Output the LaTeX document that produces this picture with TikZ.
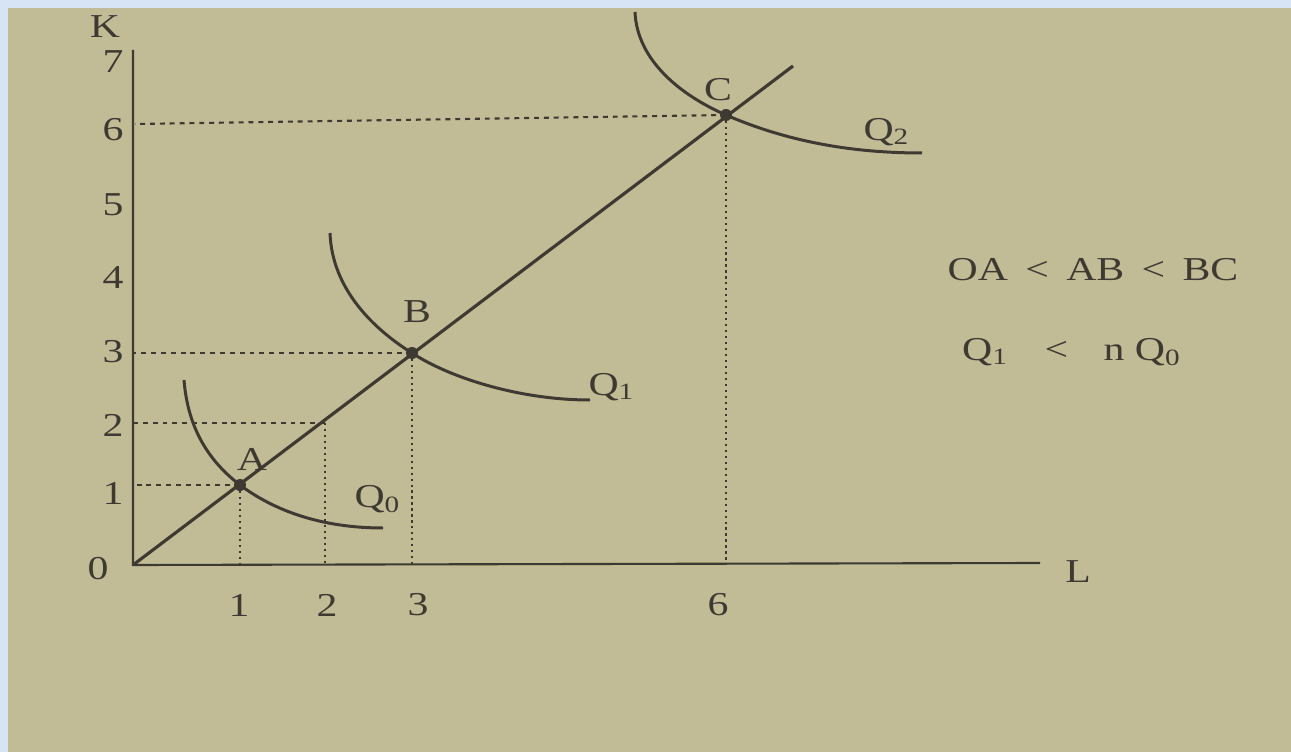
\documentclass[tikz,border=0pt]{standalone}
\usepackage{fontspec}
\setmainfont{Liberation Serif}
\usetikzlibrary{positioning}
\definecolor{paper}{RGB}{194,188,150}
\definecolor{frame}{RGB}{214,228,246}
\definecolor{ink}{RGB}{62,58,50}

\begin{document}
\begin{tikzpicture}[x=0.01cm,y=-0.01cm,
  lbl/.style={inner sep=0pt,text=ink,font=\fontsize{9.5}{11}\selectfont,xscale=1.25,transform shape},
  dot/.style={circle,fill=ink,inner sep=0pt,minimum size=0.12cm},
  iso/.style={ink,line width=0.85pt},
  hguide/.style={ink,line width=0.6pt,dash pattern=on 1.4pt off 1.4pt},
  vguide/.style={ink,line width=0.7pt,dash pattern=on 0.6pt off 1.1pt}]
  % page
  \fill[frame] (0,0) rectangle (1291,752);
  \fill[paper] (8,8) rectangle (1291,752);
  % axes
  \coordinate (O) at (133,565);
  \coordinate (Ktop) at (133,50);
  \coordinate (Lend) at (1040,563);
  \coordinate (k6pt) at (135,124);
  \draw[ink,line width=0.6pt] (Ktop) -- (O) -- (Lend);
  \node[lbl] (K) at (105,27) {K};
  \node[lbl] (L) at (1078,572) {L};
  \node[lbl] (zero) at (98,569) {0};
  \foreach \y/\l in {62/7,130/6,205/5,278/4,352/3,425/2,493/1} \node[lbl] (k\l) at (113,\y) {\l};
  \foreach \x/\l in {239/1,327/2,418/3,718/6} \node[lbl] (l\l) at (\x,605) {\l};
  % expansion path
  \coordinate (Rend) at (793,66);
  \coordinate (P2) at (325,423);
  \node[dot] (A) at (240,485) {};
  \node[dot] (B) at (412,353) {};
  \node[dot] (C) at (726,115) {};
  \draw[ink,line width=0.9pt] (O) -- (Rend);
  % guides
  \draw[hguide] (A.center) -- (A -| O);
  \draw[hguide] (P2) -- (P2 -| O);
  \draw[hguide] (B.center) -- (B -| O);
  \draw[hguide] (C.center) -- (k6pt);
  \draw[vguide] (A.center) -- (A |- O);
  \draw[vguide] (P2) -- (P2 |- O);
  \draw[vguide] (B.center) -- (B |- O);
  \draw[vguide] (C.center) -- (C |- O);
  % isoquants
  \draw[iso] (184,380) .. controls (188,430) and (210,462) .. (A.center)
    .. controls (280,515) and (330,528) .. (383,528);
  \draw[iso] (330,233) .. controls (332,290) and (375,330) .. (B.center)
    .. controls (450,378) and (520,400) .. (590,400);
  \draw[iso] (635,12) .. controls (637,60) and (680,95) .. (C.center)
    .. controls (786,141) and (850,153) .. (922,153);
  \node[lbl] (Alab) at (252,459) {A};
  \node[lbl] (Blab) at (417,312) {B};
  \node[lbl] (Clab) at (718,90) {C};
  \node[lbl] (Q0) at (378,499) {Q\textsubscript{0}};
  \node[lbl] (Q1) at (612,387) {Q\textsubscript{1}};
  \node[lbl] (Q2) at (887,132) {Q\textsubscript{2}};
  % relations
  \node[lbl] (rel1) at (1093,270) {OA \,<\, AB \,<\, BC};
  \node[lbl] (rel2) at (1072,352) {Q\textsubscript{1} \hspace{0.6em}<\hspace{0.6em} n Q\textsubscript{0}};
\end{tikzpicture}
\end{document}
